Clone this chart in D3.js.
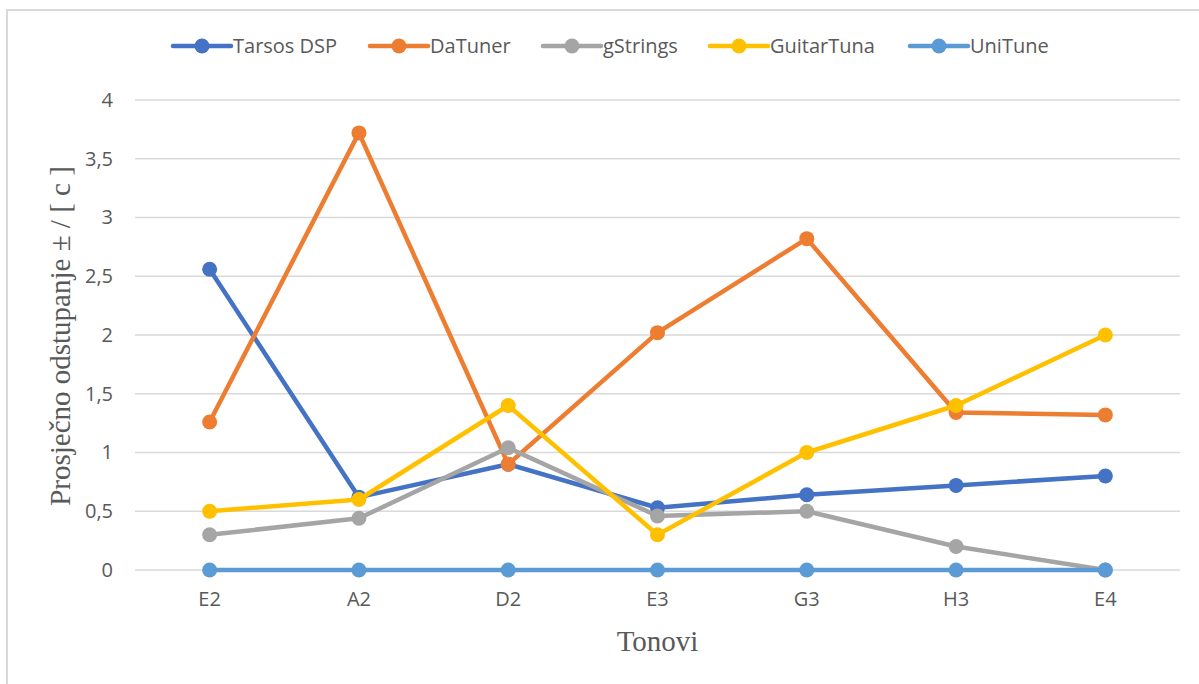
<!DOCTYPE html>
<html><head><meta charset="utf-8">
<script src="https://cdn.jsdelivr.net/npm/d3@7"></script>
<style>body{margin:0;background:#fff}svg{display:block}</style>
</head><body>
<svg id="c" width="1199" height="684"></svg>
<script>
const categories = ["E2","A2","D2","E3","G3","H3","E4"];
const seriesNames = ["Tarsos DSP","DaTuner","gStrings","GuitarTuna","UniTune"];
const seriesColors = ["#4472C4","#ED7D31","#A5A5A5","#FFC000","#5B9BD5"];
const tarsos = [2.56,0.62,0.90,0.53,0.64,0.72,0.80];
const datuner = [1.26,3.72,0.90,2.02,2.82,1.34,1.32];
const gstrings = [0.30,0.44,1.04,0.46,0.50,0.20,0.00];
const guitartuna = [0.50,0.60,1.40,0.30,1.00,1.40,2.00];
const unitune = [0,0,0,0,0,0,0];
const yTicks = [0,0.5,1,1.5,2,2.5,3,3.5,4];
const yTickLabels = ["0","0,5","1","1,5","2","2,5","3","3,5","4"];
const yTitle = "Prosječno odstupanje ± / [ c ]";
const xTitle = "Tonovi";

(function(){
const seriesValues = [tarsos,datuner,gstrings,guitartuna,unitune];
const svg = d3.select("#c");
const pLeft=135, pRight=1180, pTop=100, pBottom=570;

svg.append("rect").attr("x",7).attr("y",10).attr("width",1250).attr("height",700)
  .attr("fill","none").attr("stroke","#d9d9d9").attr("stroke-width",2);

const x = d3.scaleBand().domain(categories).range([pLeft,pRight]);
const y = d3.scaleLinear().domain([0,4]).range([pBottom,pTop]);

svg.append("g").selectAll("line").data(yTicks).join("line")
  .attr("x1",pLeft).attr("x2",pRight).attr("y1",d=>y(d)).attr("y2",d=>y(d))
  .attr("stroke","#d9d9d9").attr("stroke-width",1.5);

const tickFont = "'Open Sans',sans-serif";
const yAxis = svg.append("g").attr("transform",`translate(${pLeft},0)`)
  .call(d3.axisLeft(y).tickValues(yTicks).tickFormat((d,i)=>yTickLabels[i]).tickSize(0).tickPadding(22));
yAxis.select(".domain").remove();
yAxis.selectAll("text").attr("font-family",tickFont).attr("font-size",20).attr("fill","#595959");

const xAxis = svg.append("g").attr("transform",`translate(0,${pBottom})`)
  .call(d3.axisBottom(x).tickSize(0).tickPadding(22));
xAxis.select(".domain").remove();
xAxis.selectAll("text").attr("font-family",tickFont).attr("font-size",20).attr("fill","#595959");

svg.append("text").attr("x",(pLeft+pRight)/2).attr("y",651).attr("text-anchor","middle")
  .attr("font-family","'Liberation Serif','Times New Roman',serif").attr("font-size",29).attr("fill","#595959").text(xTitle);
svg.append("text").attr("transform",`translate(70,336) rotate(-90)`).attr("text-anchor","middle")
  .attr("font-family","'Liberation Serif','Times New Roman',serif").attr("font-size",29).attr("fill","#595959").text(yTitle);

const cx = d=>x(d)+x.bandwidth()/2;
const line = d3.line().x((d,i)=>cx(categories[i])).y(d=>y(d));
seriesValues.forEach((vals,si)=>{
  const g = svg.append("g");
  g.append("path").datum(vals).attr("d",line).attr("fill","none")
    .attr("stroke",seriesColors[si]).attr("stroke-width",4.5).attr("stroke-linejoin","round");
  g.selectAll("circle").data(vals).join("circle")
    .attr("cx",(d,i)=>cx(categories[i])).attr("cy",d=>y(d)).attr("r",7.5).attr("fill",seriesColors[si]);
});

const legendX = [173,370,543,710,910];
const lg = svg.append("g");
seriesNames.forEach((n,i)=>{
  const g = lg.append("g").attr("transform",`translate(${legendX[i]},46)`);
  g.append("line").attr("x1",0).attr("x2",58).attr("stroke",seriesColors[i]).attr("stroke-width",4.5).attr("stroke-linecap","round");
  g.append("circle").attr("cx",29).attr("r",7.5).attr("fill",seriesColors[i]);
  g.append("text").attr("x",60).attr("y",7).attr("font-family",tickFont).attr("font-size",20).attr("fill","#595959").text(n);
});
})();
</script>
</body></html>
